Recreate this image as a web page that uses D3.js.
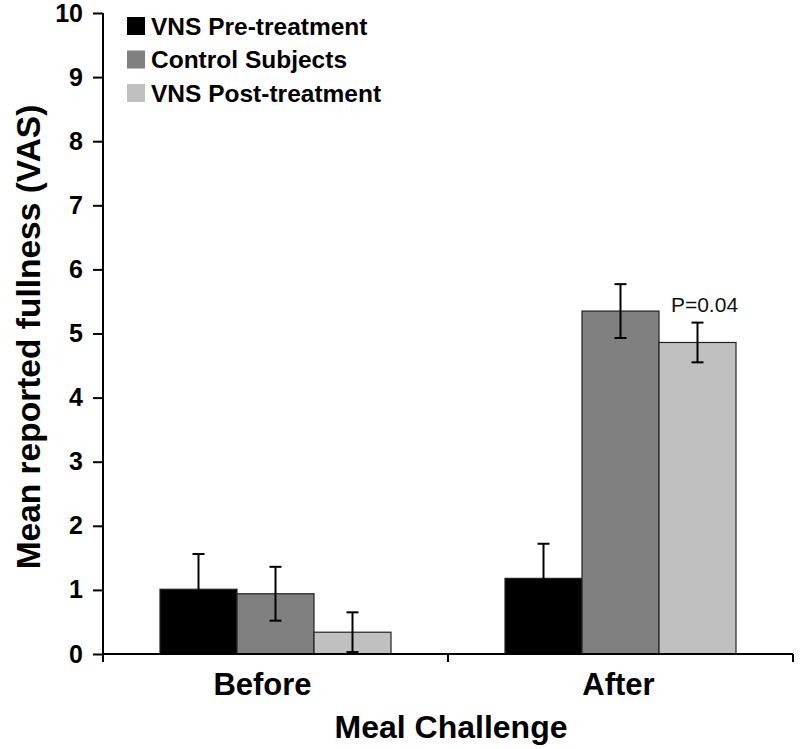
<!DOCTYPE html>
<html>
<head>
<meta charset="utf-8">
<script src="https://cdnjs.cloudflare.com/ajax/libs/d3/7.8.5/d3.min.js"></script>
<style>
body { margin: 0; background: #fff; }
svg { display: block; font-family: "Liberation Sans", Arial, sans-serif; }
</style>
</head>
<body>
<svg id="chart" width="800" height="749"></svg>
<script>
const categories = ["Before", "After"];
const seriesNames = ["VNS Pre-treatment", "Control Subjects", "VNS Post-treatment"];
const seriesColors = ["#000000", "#808080", "#c0c0c0"];
const preValues = [1.01, 1.18];
const controlValues = [0.94, 5.35];
const postValues = [0.34, 4.86];
const preErrors = [0.55, 0.54];
const controlErrors = [0.42, 0.42];
const postErrors = [0.31, 0.31];
const yTicks = [0, 1, 2, 3, 4, 5, 6, 7, 8, 9, 10];
const annotations = [{ category: "After", series: 2, text: "P=0.04" }];

const values = [preValues, controlValues, postValues];
const errors = [preErrors, controlErrors, postErrors];

const svg = d3.select("#chart");
const margin = { top: 13, right: 7, bottom: 95, left: 103 };
const W = 800, H = 749;
const innerW = W - margin.left - margin.right;
const innerH = H - margin.top - margin.bottom;

const g = svg.append("g").attr("transform", `translate(${margin.left},${margin.top})`);

const x0 = d3.scaleBand().domain(categories).range([0, innerW]).paddingInner(0).paddingOuter(0);
const x1 = d3.scaleBand().domain(d3.range(seriesNames.length)).range([57, x0.bandwidth() - 57]).padding(0);
const y = d3.scaleLinear().domain([0, 10]).range([innerH, 0]);

// bars
const data = [];
categories.forEach((c, ci) => {
  seriesNames.forEach((s, si) => {
    data.push({ cat: c, si, v: values[si][ci], e: errors[si][ci] });
  });
});

g.selectAll("rect.bar").data(data).enter().append("rect")
  .attr("class", "bar")
  .attr("x", d => x0(d.cat) + x1(d.si))
  .attr("y", d => y(d.v))
  .attr("width", x1.bandwidth())
  .attr("height", d => y(0) - y(d.v))
  .attr("fill", d => seriesColors[d.si])
  .attr("stroke", "#222")
  .attr("stroke-width", 1.2);

// error bars
const eb = g.selectAll("g.err").data(data).enter().append("g").attr("class", "err");
const cx = d => x0(d.cat) + x1(d.si) + x1.bandwidth() / 2;
eb.append("line")
  .attr("x1", cx).attr("x2", cx)
  .attr("y1", d => y(d.v + d.e)).attr("y2", d => y(Math.max(0, d.v - d.e)))
  .attr("stroke", "#000").attr("stroke-width", 2);
eb.append("line")
  .attr("x1", d => cx(d) - 6).attr("x2", d => cx(d) + 6)
  .attr("y1", d => y(d.v + d.e)).attr("y2", d => y(d.v + d.e))
  .attr("stroke", "#000").attr("stroke-width", 2);
eb.append("line")
  .attr("x1", d => cx(d) - 6).attr("x2", d => cx(d) + 6)
  .attr("y1", d => y(Math.max(0, d.v - d.e))).attr("y2", d => y(Math.max(0, d.v - d.e)))
  .attr("stroke", "#000").attr("stroke-width", 2);

// annotation
annotations.forEach(a => {
  const d = data.find(dd => dd.cat === a.category && dd.si === a.series);
  g.append("text")
    .attr("x", x0(a.category) + x1(a.series) + x1.bandwidth() / 2 + 7)
    .attr("y", y(d.v + d.e) - 11)
    .attr("text-anchor", "middle")
    .attr("font-size", 21)
    .attr("fill", "#111")
    .text(a.text);
});

// y axis
const yAxis = g.append("g").call(d3.axisLeft(y).tickValues(yTicks).tickSize(10).tickPadding(10).tickFormat(d3.format("d")));
yAxis.select(".domain").attr("stroke", "#000").attr("stroke-width", 2).attr("d", `M0,${y(10)}V${y(0)}`);
yAxis.selectAll(".tick line").attr("stroke", "#000").attr("stroke-width", 2);
yAxis.selectAll(".tick text").attr("font-size", 25).attr("font-weight", "bold").attr("fill", "#000")
  .attr("font-family", "Liberation Sans, Arial, sans-serif");

// x axis
const xAxis = g.append("g").attr("transform", `translate(0,${innerH})`);
xAxis.append("line").attr("x1", 0).attr("x2", innerW).attr("y1", 0).attr("y2", 0)
  .attr("stroke", "#000").attr("stroke-width", 2);
const boundaries = categories.map(c => x0(c)).concat([innerW]);
xAxis.selectAll("line.tk").data(boundaries).enter().append("line").attr("class", "tk")
  .attr("x1", d => d).attr("x2", d => d).attr("y1", 0).attr("y2", 8)
  .attr("stroke", "#000").attr("stroke-width", 2);
xAxis.selectAll("text.cat").data(categories).enter().append("text").attr("class", "cat")
  .attr("x", d => x0(d) + x0.bandwidth() / 2 - (d === "Before" ? 13 : 2))
  .attr("y", 41)
  .attr("text-anchor", "middle")
  .attr("font-size", 31).attr("font-weight", "bold").attr("fill", "#000")
  .text(d => d);

// axis titles
svg.append("text")
  .attr("x", 451).attr("y", 738)
  .attr("text-anchor", "middle")
  .attr("font-size", 32).attr("font-weight", "bold").attr("fill", "#000")
  .text("Meal Challenge");

svg.append("text")
  .attr("transform", "translate(40,337) rotate(-90)")
  .attr("text-anchor", "middle")
  .attr("font-size", 33.5).attr("font-weight", "bold").attr("fill", "#000")
  .text("Mean reported fullness (VAS)");

// legend
const legend = svg.append("g").attr("transform", "translate(127,17)");
const li = legend.selectAll("g").data(seriesNames).enter().append("g")
  .attr("transform", (d, i) => `translate(0,${i * 33.5})`);
li.append("rect").attr("width", 18).attr("height", 18).attr("fill", (d, i) => seriesColors[i]);
li.append("text").attr("x", 24).attr("y", 17.5)
  .attr("font-size", 24.5).attr("font-weight", "bold").attr("fill", "#000")
  .text(d => d);
</script>
</body>
</html>
